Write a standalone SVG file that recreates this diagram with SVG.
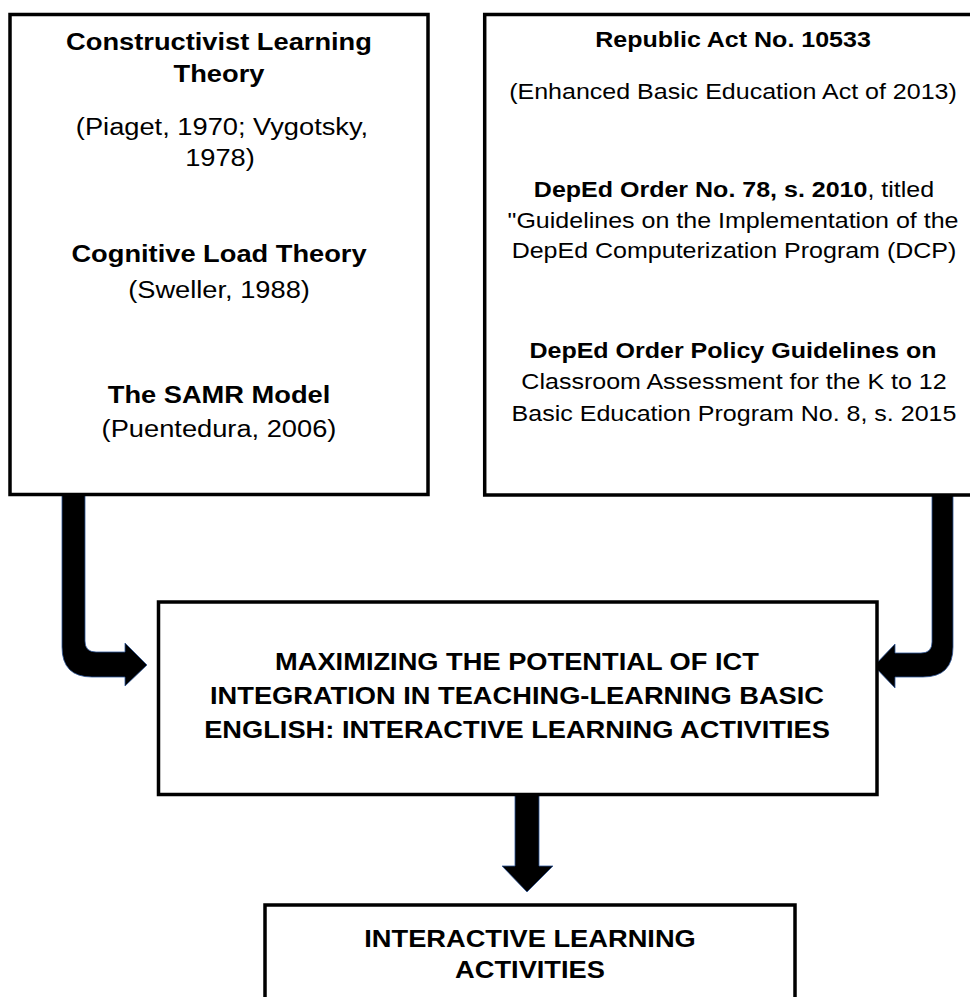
<svg xmlns="http://www.w3.org/2000/svg" width="970" height="997" viewBox="0 0 970 997">
<style>
  .box { fill: #ffffff; stroke: #000000; stroke-width: 3.5; }
  .t { font-family: "Liberation Sans", Arial, sans-serif; fill: #000000; text-anchor: middle; }
  .b { font-weight: bold; }
  .l { font-size: 23.2px; }
  .r { font-size: 21.3px; }
  .arrow { fill: #000000; stroke: #2f5597; stroke-width: 0.8; stroke-linejoin: miter; }
</style>
<rect width="970" height="997" fill="#ffffff"/>

<g id="connectors">
  <path class="arrow" d="M62,495 L62,647 Q62,677 92,677 L125,677 L125,686 L147,665 L125,643 L125,652 L96,652 Q85,652 85,641 L85,495 Z"/>
  <path class="arrow" d="M932,495 L932,642 Q932,653 921,653 L895,653 L895,644 L874,666 L895,688 L895,677 L923,677 Q953,677 953,647 L953,495 Z"/>
  <path class="arrow" d="M515,795 L515,866 L502,866 L527,892 L553,866 L539,866 L539,795 Z"/>
</g>

<g id="theories">
  <rect class="box" x="10" y="14.5" width="418" height="480"/>
  <text class="t l b" transform="translate(219,50) scale(1.175,1)">Constructivist Learning</text>
  <text class="t l b" transform="translate(219,82) scale(1.175,1)">Theory</text>
  <text class="t l" transform="translate(222,135) scale(1.175,1)">(Piaget, 1970; Vygotsky,</text>
  <text class="t l" transform="translate(220,166) scale(1.175,1)">1978)</text>
  <text class="t l b" transform="translate(219,262) scale(1.175,1)">Cognitive Load Theory</text>
  <text class="t l" transform="translate(219,298) scale(1.175,1)">(Sweller, 1988)</text>
  <text class="t l b" transform="translate(219,403) scale(1.175,1)">The SAMR Model</text>
  <text class="t l" transform="translate(219,437) scale(1.175,1)">(Puentedura, 2006)</text>
</g>

<g id="policies">
  <rect class="box" x="484.7" y="14.5" width="500" height="480.5"/>
  <text class="t r b" transform="translate(733,47) scale(1.175,1)">Republic Act No. 10533</text>
  <text class="t r" transform="translate(733,99) scale(1.175,1)">(Enhanced Basic Education Act of 2013)</text>
  <text class="t r" transform="translate(734,197) scale(1.175,1)"><tspan class="b">DepEd Order No. 78, s. 2010</tspan>, titled</text>
  <text class="t r" transform="translate(733,228) scale(1.175,1)">"Guidelines on the Implementation of the</text>
  <text class="t r" transform="translate(734,258) scale(1.175,1)">DepEd Computerization Program (DCP)</text>
  <text class="t r b" transform="translate(733,358) scale(1.175,1)">DepEd Order Policy Guidelines on</text>
  <text class="t r" transform="translate(734,389) scale(1.175,1)">Classroom Assessment for the K to 12</text>
  <text class="t r" transform="translate(734,421) scale(1.175,1)">Basic Education Program No. 8, s. 2015</text>
</g>

<g id="framework">
  <rect class="box" x="158.5" y="602" width="718.5" height="192.5"/>
  <text class="t l b" transform="translate(517,670) scale(1.175,1)">MAXIMIZING THE POTENTIAL OF ICT</text>
  <text class="t l b" transform="translate(517,704) scale(1.175,1)">INTEGRATION IN TEACHING-LEARNING BASIC</text>
  <text class="t l b" transform="translate(517,738) scale(1.175,1)">ENGLISH: INTERACTIVE LEARNING ACTIVITIES</text>
</g>

<g id="output">
  <rect class="box" x="265" y="905" width="530" height="120"/>
  <text class="t l b" transform="translate(530,947) scale(1.175,1)">INTERACTIVE LEARNING</text>
  <text class="t l b" transform="translate(530,978) scale(1.175,1)">ACTIVITIES</text>
</g>
</svg>
